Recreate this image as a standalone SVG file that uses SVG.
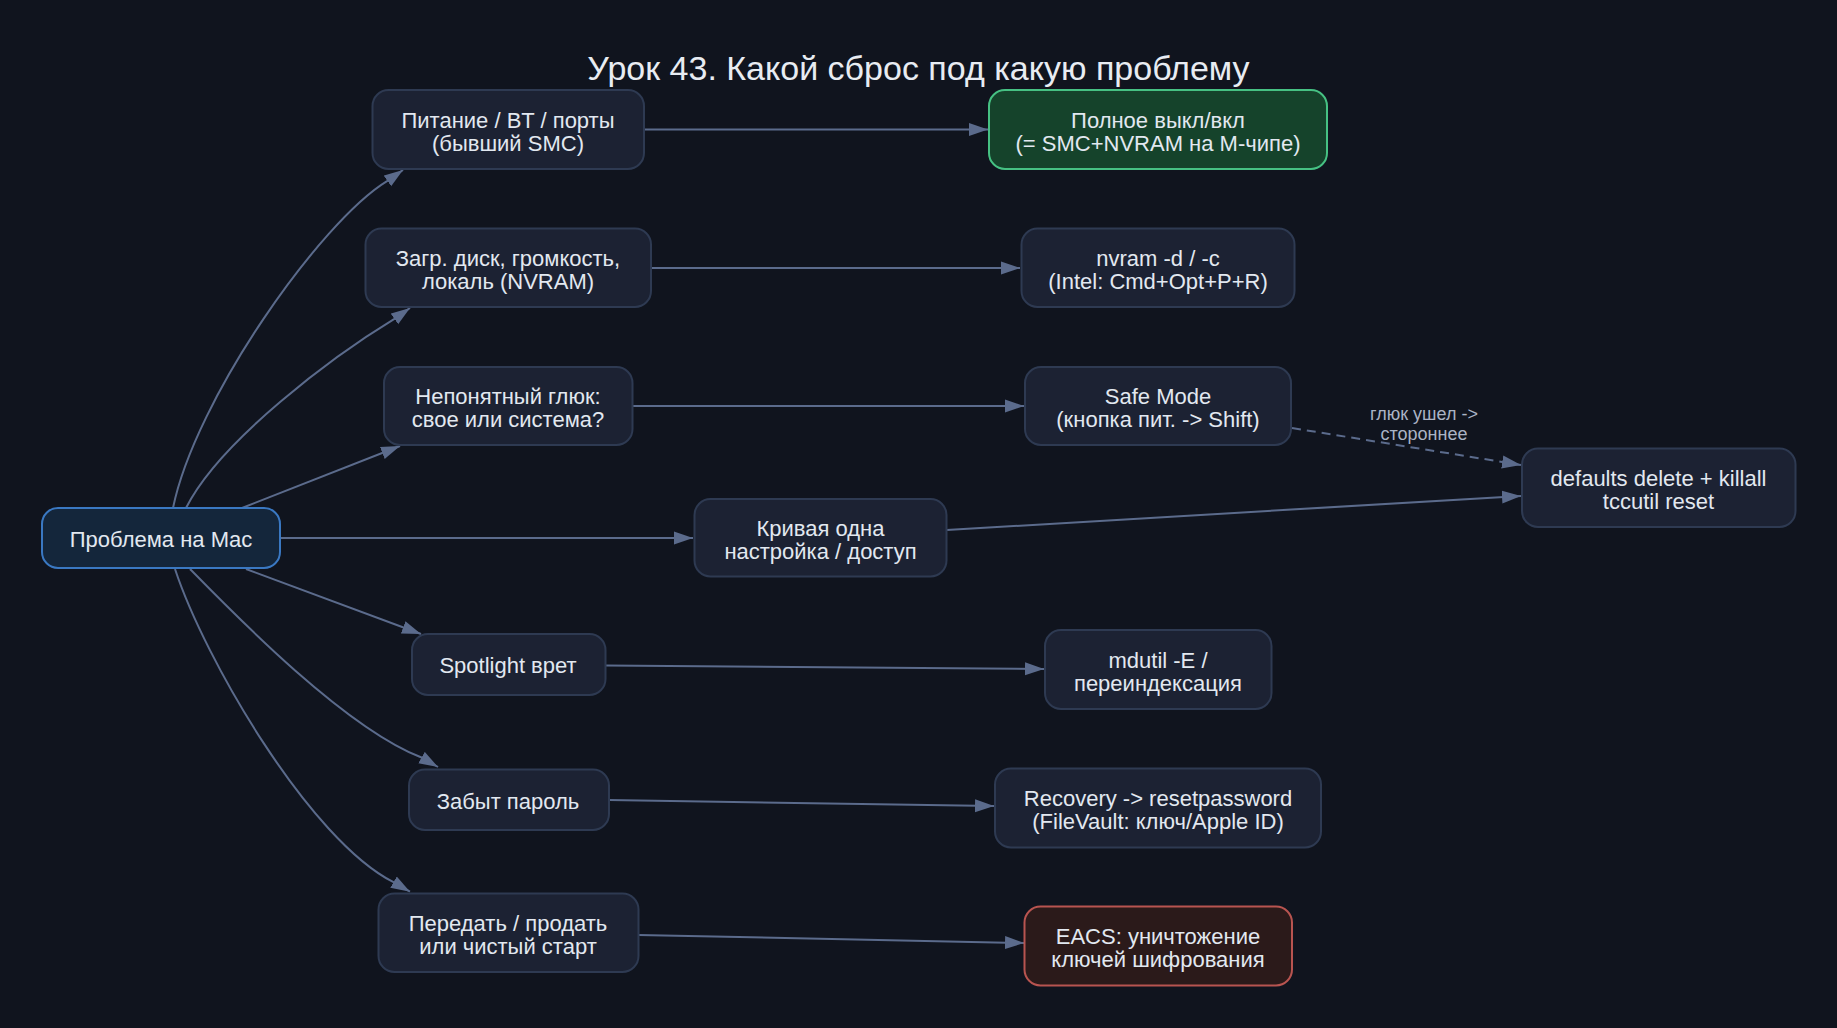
<svg xmlns="http://www.w3.org/2000/svg" width="1837" height="1028" viewBox="0 0 1837 1028">
<defs>
<marker id="arr" markerUnits="userSpaceOnUse" markerWidth="19" markerHeight="14" refX="19" refY="7" orient="auto"><path d="M0,0.5 L19,7 L0,13.5 z" fill="#5b6b8c"/></marker>
<style>
.bg{fill:#10141e}
.n rect{fill:#1c2233;stroke:#2e3a52;stroke-width:2}
.n text{font-family:"Liberation Sans",Arial,sans-serif;font-size:22px;fill:#e2e8f0;text-anchor:middle}
.blue rect{fill:#14263b;stroke:#3a78c2}
.green rect{fill:#15432b;stroke:#46c183}
.red rect{fill:#2b1a1a;stroke:#b85450}
.e path{fill:none;stroke:#5b6b8c;stroke-width:2;marker-end:url(#arr)}
.e .d{stroke-dasharray:9,6}
.lbl{font-family:"Liberation Sans",Arial,sans-serif;font-size:18px;fill:#aab3c5;text-anchor:middle}
.title{font-family:"Liberation Sans",Arial,sans-serif;font-size:34px;fill:#e8ecf2;text-anchor:middle}
</style>
</defs>
<rect class="bg" x="0" y="0" width="1837" height="1028"/>
<text class="title" x="918.5" y="80">Урок 43. Какой сброс под какую проблему</text>
<g id="edges" class="e">
<path d="M173,508 C195,400 320,222 387.4,180.9 L403,170"/>
<path d="M186,508 C220,440 335,355 394.4,318.9 L410,308"/>
<path d="M242,508 L400,446"/>
<path d="M280,538 L693,538"/>
<path d="M246,569 L421,634"/>
<path d="M190,569 C235,615 345,728 421.5,757.5 L438,767"/>
<path d="M175,569 C205,660 310,840 393.5,882.2 L410,891.7"/>
<path d="M644,129.5 L988,129.5"/>
<path d="M651,268 L1020,268"/>
<path d="M632,406 L1024,406"/>
<path d="M946.6,530 L1521,496"/>
<path class="d" d="M1292,428 L1521,465"/>
<path d="M605.7,665.5 L1044,669"/>
<path d="M609,800 L994,806"/>
<path d="M638.5,935 L1024,943"/>
<text class="lbl" x="1424" y="420">глюк ушел -&gt;</text>
<text class="lbl" x="1424" y="440">стороннее</text>
</g>
<g id="n_problem" class="n blue"><rect x="42" y="508" width="238" height="60" rx="16"/><text x="161" y="547">Проблема на Mac</text></g>
<g id="n_power" class="n"><rect x="372.5" y="90" width="271.5" height="79" rx="16"/><text x="508" y="127.5">Питание / BT / порты</text><text x="508" y="150.5">(бывший SMC)</text></g>
<g id="n_nvram" class="n"><rect x="365.5" y="228.5" width="285.5" height="78.5" rx="16"/><text x="508" y="265.5">Загр. диск, громкость,</text><text x="508" y="288.5">локаль (NVRAM)</text></g>
<g id="n_glitch" class="n"><rect x="384" y="367" width="248.5" height="78" rx="16"/><text x="508" y="403.5">Непонятный глюк:</text><text x="508" y="426.5">свое или система?</text></g>
<g id="n_setting" class="n"><rect x="694.5" y="499" width="252" height="77.5" rx="16"/><text x="820.5" y="535.5">Кривая одна</text><text x="820.5" y="558.5">настройка / доступ</text></g>
<g id="n_spotlight" class="n"><rect x="412" y="634" width="193.5" height="61" rx="16"/><text x="508" y="673">Spotlight врет</text></g>
<g id="n_password" class="n"><rect x="409" y="769.5" width="200" height="60.5" rx="16"/><text x="508" y="809">Забыт пароль</text></g>
<g id="n_sell" class="n"><rect x="378.5" y="893.5" width="260" height="78.5" rx="16"/><text x="508" y="930.5">Передать / продать</text><text x="508" y="953.5">или чистый старт</text></g>
<g id="n_off" class="n green"><rect x="989" y="90" width="338" height="79" rx="16"/><text x="1158" y="127.5">Полное выкл/вкл</text><text x="1158" y="150.5">(= SMC+NVRAM на M-чипе)</text></g>
<g id="n_nvramcmd" class="n"><rect x="1021.5" y="228.5" width="273" height="78.5" rx="16"/><text x="1158" y="265.5">nvram -d / -c</text><text x="1158" y="288.5">(Intel: Cmd+Opt+P+R)</text></g>
<g id="n_safe" class="n"><rect x="1025" y="367" width="266" height="78" rx="16"/><text x="1158" y="403.5">Safe Mode</text><text x="1158" y="426.5">(кнопка пит. -&gt; Shift)</text></g>
<g id="n_defaults" class="n"><rect x="1522" y="448.5" width="273.5" height="78.5" rx="16"/><text x="1658.5" y="485.5">defaults delete + killall</text><text x="1658.5" y="508.5">tccutil reset</text></g>
<g id="n_mdutil" class="n"><rect x="1045" y="630" width="226.5" height="79" rx="16"/><text x="1158" y="667.5">mdutil -E /</text><text x="1158" y="690.5">переиндексация</text></g>
<g id="n_recovery" class="n"><rect x="995" y="768.5" width="326" height="79" rx="16"/><text x="1158" y="805.5">Recovery -&gt; resetpassword</text><text x="1158" y="828.5">(FileVault: ключ/Apple ID)</text></g>
<g id="n_eacs" class="n red"><rect x="1024.5" y="906.5" width="267.5" height="79" rx="16"/><text x="1158" y="943.5">EACS: уничтожение</text><text x="1158" y="966.5">ключей шифрования</text></g>
</svg>
